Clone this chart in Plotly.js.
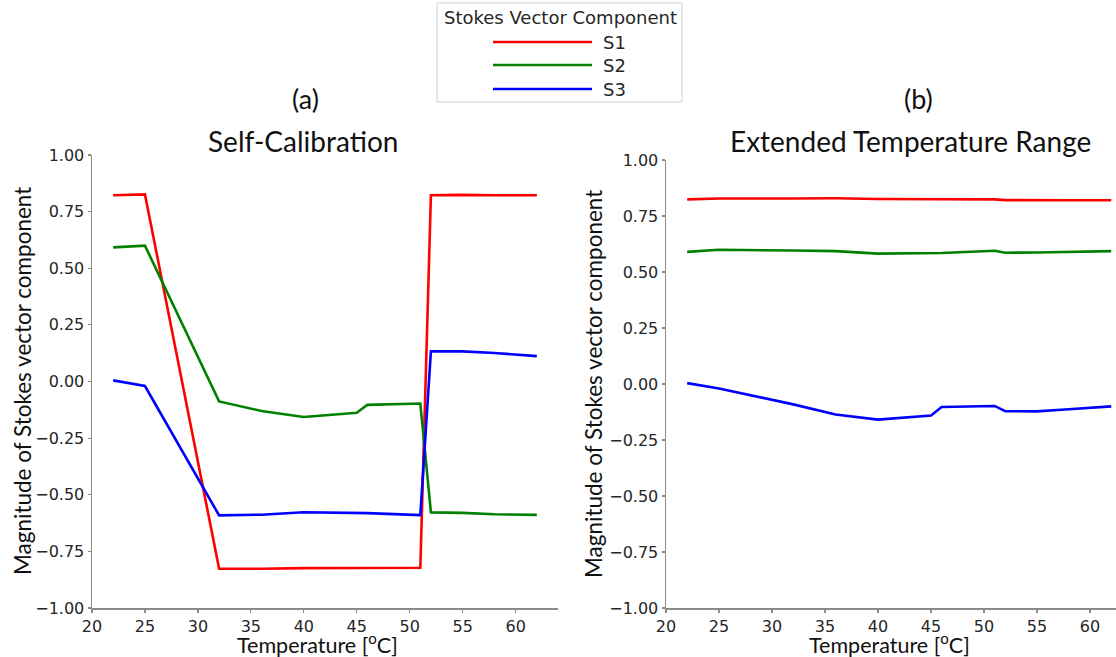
<!DOCTYPE html>
<html>
<head>
<meta charset="utf-8">
<script src="https://cdn.plot.ly/plotly-3.0.1.min.js"></script>
<style>
html,body{margin:0;padding:0;background:#fff;}
#chart{width:1116px;height:657px;}
</style>
</head>
<body>
<div id="chart"></div>
<script>
// Temperature points (°C)
const temperature = [22, 25, 32, 36, 40, 45, 46, 51, 52, 55, 58, 62];

// (a) Self-Calibration
const selfCalS1 = [0.822, 0.826, -0.826, -0.827, -0.824, -0.824, -0.824, -0.822, 0.822, 0.824, 0.822, 0.822];
const selfCalS2 = [0.592, 0.600, -0.088, -0.130, -0.157, -0.138, -0.103, -0.097, -0.578, -0.580, -0.586, -0.589];
const selfCalS3 = [0.005, -0.020, -0.591, -0.588, -0.577, -0.580, -0.581, -0.590, 0.133, 0.133, 0.126, 0.112];

// (b) Extended Temperature Range
const extS1 = [0.824, 0.828, 0.828, 0.829, 0.826, 0.826, 0.825, 0.824, 0.821, 0.822, 0.820, 0.820];
const extS2 = [0.590, 0.599, 0.596, 0.593, 0.582, 0.584, 0.585, 0.595, 0.586, 0.587, 0.591, 0.593];
const extS3 = [0.004, -0.020, -0.091, -0.136, -0.159, -0.141, -0.103, -0.098, -0.121, -0.122, -0.113, -0.100];

const seriesNames = ["S1", "S2", "S3"];
const seriesColors = ["#ff0000", "#008000", "#0000ff"];
const legendTitle = "Stokes Vector Component";
const xTitle = "Temperature [<sup>o</sup>C]";
const yTitle = "Magnitude of Stokes vector component";
const panelLabels = ["(a)", "(b)"];
const panelTitles = ["Self-Calibration", "Extended Temperature Range"];

const W = 1116, H = 657;
const px = v => v / W;
const py = v => 1 - v / H;

const traces = [];
[selfCalS1, selfCalS2, selfCalS3].forEach((ys, i) => {
  traces.push({x: temperature, y: ys, type: "scatter", mode: "lines", name: seriesNames[i],
    line: {color: seriesColors[i], width: 2.6}, xaxis: "x", yaxis: "y", showlegend: false});
});
[extS1, extS2, extS3].forEach((ys, i) => {
  traces.push({x: temperature, y: ys, type: "scatter", mode: "lines", name: seriesNames[i],
    line: {color: seriesColors[i], width: 2.6}, xaxis: "x2", yaxis: "y2", showlegend: false});
});

const sansFam = "Lato, 'Open Sans', sans-serif";
const tickFont = {family: "DejaVu Sans", size: 16, color: "#262626"};
const titleFont = {family: sansFam, size: 22.5, color: "#111"};
const xTitleFont = {family: sansFam, size: 21.5, color: "#111"};
const axisCommon = {
  showgrid: false, zeroline: false, showline: true, linecolor: "#8a8a8a", linewidth: 1.5,
  ticks: "outside", ticklen: 3, tickcolor: "#8a8a8a", tickwidth: 1.2, tickfont: tickFont
};

const layout = {
  width: W, height: H,
  margin: {l: 0, r: 0, t: 0, b: 0},
  paper_bgcolor: "#fff", plot_bgcolor: "#fff",
  showlegend: false,
  xaxis: Object.assign({}, axisCommon, {domain: [px(92), px(558)], range: [20, 64], dtick: 5, tick0: 20,
    anchor: "y"}),
  yaxis: Object.assign({}, axisCommon, {domain: [py(608), py(155)], range: [-1, 1], dtick: 0.25, tick0: -1,
    tickformat: ".2f", anchor: "x"}),
  xaxis2: Object.assign({}, axisCommon, {domain: [px(666), 1], range: [20, 62.45], dtick: 5, tick0: 20,
    anchor: "y2"}),
  yaxis2: Object.assign({}, axisCommon, {domain: [py(608), py(160)], range: [-1, 1], dtick: 0.25, tick0: -1,
    tickformat: ".2f", anchor: "x2"}),
  shapes: [],
  annotations: []
};

// x-axis titles
[317, 889].forEach(x => {
  layout.annotations.push({text: xTitle, xref: "paper", yref: "paper", x: px(x), y: py(660),
    xanchor: "center", yanchor: "bottom", showarrow: false, font: xTitleFont});
});

// y-axis titles
[[22, 381], [593, 384]].forEach(([x, y]) => {
  layout.annotations.push({text: yTitle, xref: "paper", yref: "paper", x: px(x), y: py(y),
    xanchor: "center", yanchor: "middle", textangle: -90, showarrow: false, font: titleFont});
});

// panel labels and titles
const panelCenters = [303, 910];
panelLabels.forEach((t, i) => {
  layout.annotations.push({text: t, xref: "paper", yref: "paper", x: px(panelCenters[i] + 2 + 6 * i), y: py(98),
    xanchor: "center", yanchor: "middle", showarrow: false,
    font: {family: sansFam, size: 27, color: "#111"}});
});
panelTitles.forEach((t, i) => {
  layout.annotations.push({text: t, xref: "paper", yref: "paper", x: px(panelCenters[i]), y: py(141),
    xanchor: "center", yanchor: "middle", showarrow: false,
    font: {family: sansFam, size: 28, color: "#111"}});
});

// custom legend (matplotlib-style box with long line samples)
layout.shapes.push({type: "rect", xref: "paper", yref: "paper",
  x0: px(437), x1: px(682), y0: py(102), y1: py(3),
  line: {color: "#d0d0d0", width: 1}, fillcolor: "rgba(255,255,255,0.8)"});
layout.annotations.push({text: legendTitle, xref: "paper", yref: "paper", x: px(560), y: py(17),
  xanchor: "center", yanchor: "middle", showarrow: false,
  font: {family: "DejaVu Sans", size: 18, color: "#262626"}});
const legendRows = [42, 65, 89];
seriesNames.forEach((n, i) => {
  layout.shapes.push({type: "line", xref: "paper", yref: "paper",
    x0: px(493), x1: px(592), y0: py(legendRows[i]), y1: py(legendRows[i]),
    line: {color: seriesColors[i], width: 2.6}});
  layout.annotations.push({text: n, xref: "paper", yref: "paper", x: px(601), y: py(legendRows[i]),
    xanchor: "left", yanchor: "middle", showarrow: false,
    font: {family: "DejaVu Sans", size: 18, color: "#262626"}});
});

Plotly.newPlot("chart", traces, layout, {staticPlot: true, displayModeBar: false});
</script>
</body>
</html>
